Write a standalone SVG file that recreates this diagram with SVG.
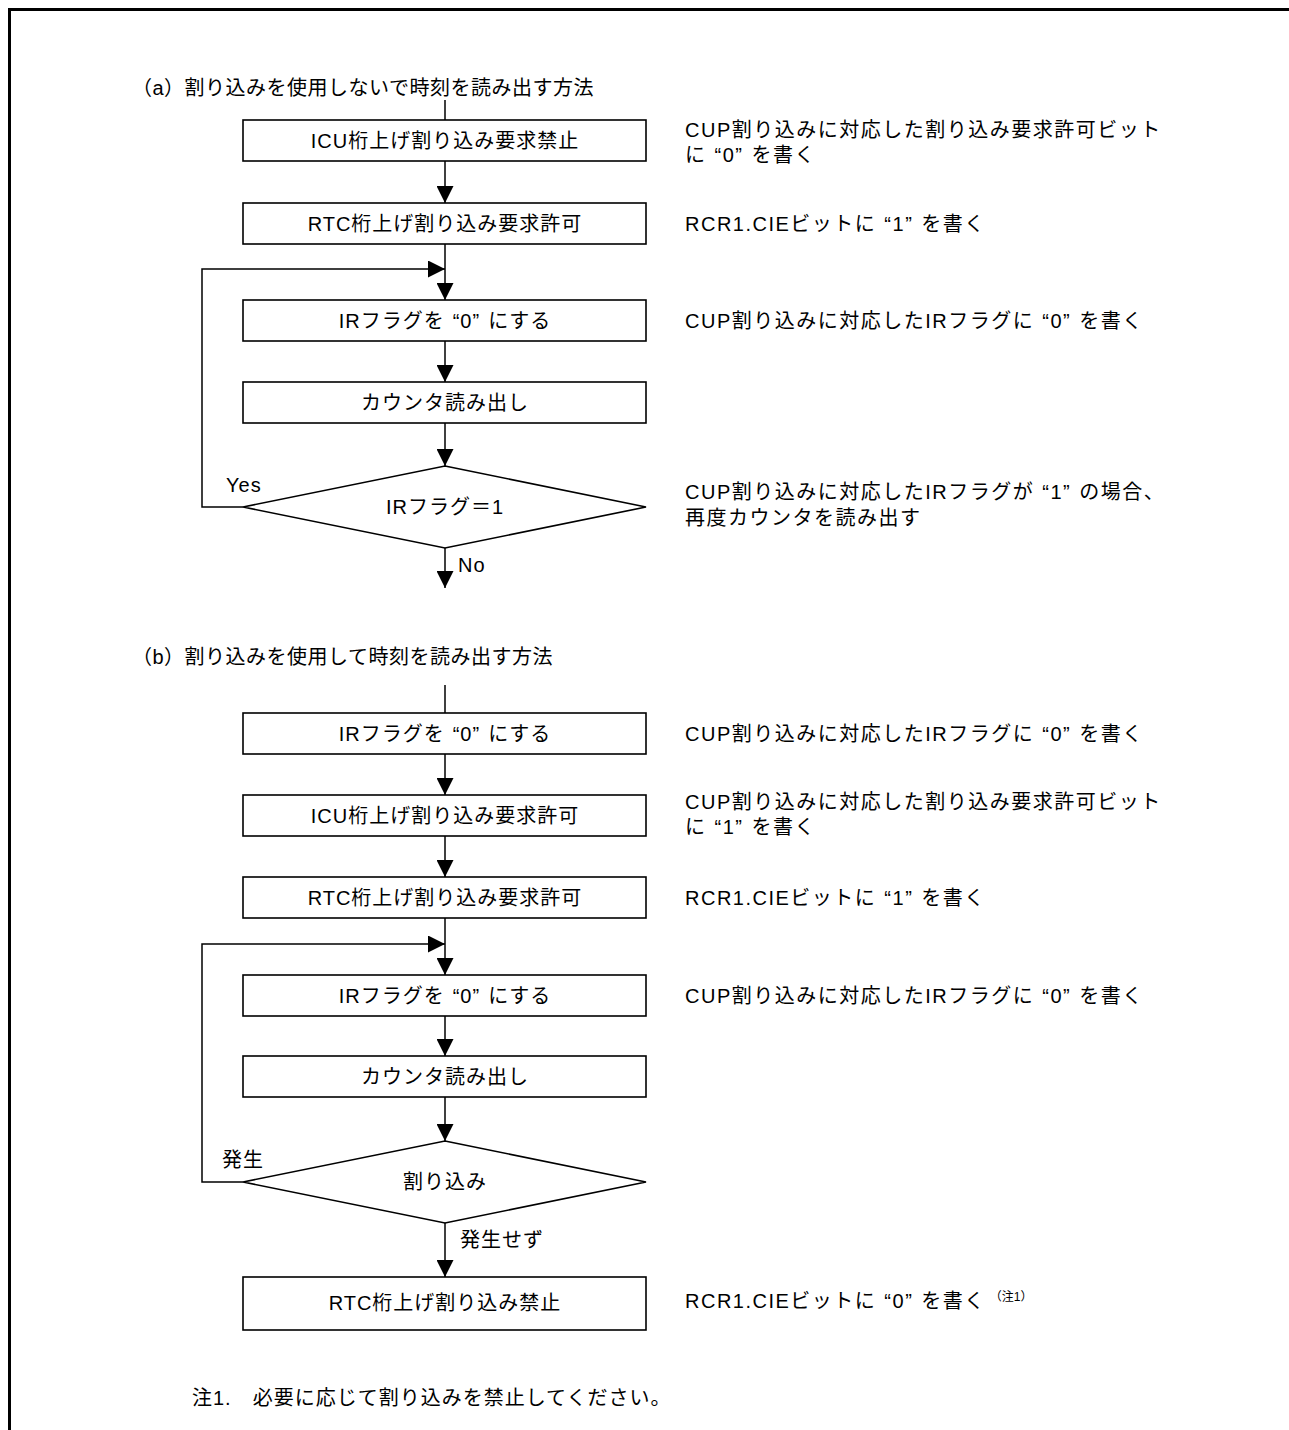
<svg xmlns="http://www.w3.org/2000/svg" width="1289" height="1430" viewBox="0 0 1289 1430">
<defs>
<marker id="ah" viewBox="0 0 17 17" refX="17" refY="8.5" markerWidth="17" markerHeight="17" markerUnits="userSpaceOnUse" orient="auto">
<path d="M0,0 L17,8.5 L0,17 Z" fill="#000"/>
</marker>
</defs>
<style>
text { font-family: "Liberation Sans", "Noto Sans CJK JP", sans-serif; font-size: 20px; fill: #000; letter-spacing: 1px; }
.c { text-anchor: middle; }
.r { letter-spacing: 1.5px; }
.t { letter-spacing: 0.5px; }
.box { fill: #fff; stroke: #000; stroke-width: 1.6; }
.ln { fill: none; stroke: #000; stroke-width: 1.5; }
.ar { marker-end: url(#ah); }
.sup { font-size: 12px; letter-spacing: 0; }
.frame { fill: none; stroke: #000; stroke-width: 3; }
</style>
<path class="frame" d="M9.5,1430 V9.5 H1289"/>
<text class="t" x="132" y="95">（a）割り込みを使用しないで時刻を読み出す方法</text>
<text class="t" x="132" y="664">（b）割り込みを使用して時刻を読み出す方法</text>
<g id="connectors">
<path class="ln" d="M445,100 V120"/>
<path class="ln ar" d="M445,161 V203"/>
<path class="ln ar" d="M445,244 V300"/>
<path class="ln ar" d="M445,341 V382"/>
<path class="ln ar" d="M445,423 V466"/>
<path class="ln ar" d="M243,507 H202 V269 H445"/>
<path class="ln ar" d="M445,548 V588"/>
<text x="226" y="492">Yes</text>
<text x="458" y="572">No</text>
<path class="ln" d="M445,685 V713"/>
<path class="ln ar" d="M445,754 V795"/>
<path class="ln ar" d="M445,836 V877"/>
<path class="ln ar" d="M445,918 V975"/>
<path class="ln ar" d="M445,1016 V1056"/>
<path class="ln ar" d="M445,1097 V1141"/>
<path class="ln ar" d="M243,1182 H202 V944 H445"/>
<path class="ln ar" d="M445,1223 V1277"/>
<text x="222" y="1167">発生</text>
<text x="460" y="1247">発生せず</text>
</g>
<g id="a1"><rect class="box" x="243" y="120" width="403" height="41"/><text class="c" x="445" y="148">ICU桁上げ割り込み要求禁止</text></g>
<g id="a2"><rect class="box" x="243" y="203" width="403" height="41"/><text class="c" x="445" y="231">RTC桁上げ割り込み要求許可</text></g>
<g id="a3"><rect class="box" x="243" y="300" width="403" height="41"/><text class="c" x="445" y="328">IRフラグを<tspan dx="8">“0”</tspan><tspan dx="8">にする</tspan></text></g>
<g id="a4"><rect class="box" x="243" y="382" width="403" height="41"/><text class="c" x="445" y="410">カウンタ読み出し</text></g>
<g id="a5"><polygon class="box" points="445,466 646,507 445,548 243,507"/><text class="c" x="445" y="514">IRフラグ＝1</text></g>
<g id="b1"><rect class="box" x="243" y="713" width="403" height="41"/><text class="c" x="445" y="741">IRフラグを<tspan dx="8">“0”</tspan><tspan dx="8">にする</tspan></text></g>
<g id="b2"><rect class="box" x="243" y="795" width="403" height="41"/><text class="c" x="445" y="823">ICU桁上げ割り込み要求許可</text></g>
<g id="b3"><rect class="box" x="243" y="877" width="403" height="41"/><text class="c" x="445" y="905">RTC桁上げ割り込み要求許可</text></g>
<g id="b4"><rect class="box" x="243" y="975" width="403" height="41"/><text class="c" x="445" y="1003">IRフラグを<tspan dx="8">“0”</tspan><tspan dx="8">にする</tspan></text></g>
<g id="b5"><rect class="box" x="243" y="1056" width="403" height="41"/><text class="c" x="445" y="1084">カウンタ読み出し</text></g>
<g id="b6"><polygon class="box" points="445,1141 646,1182 445,1223 243,1182"/><text class="c" x="445" y="1189">割り込み</text></g>
<g id="b7"><rect class="box" x="243" y="1277" width="403" height="53"/><text class="c" x="445" y="1310">RTC桁上げ割り込み禁止</text></g>
<g id="notes">
<text class="r" x="685" y="137">CUP割り込みに対応した割り込み要求許可ビット</text>
<text class="r" x="685" y="162">に<tspan dx="8">“0”</tspan><tspan dx="8">を書く</tspan></text>
<text class="r" x="685" y="231">RCR1.CIEビットに<tspan dx="8">“1”</tspan><tspan dx="8">を書く</tspan></text>
<text class="r" x="685" y="328">CUP割り込みに対応したIRフラグに<tspan dx="8">“0”</tspan><tspan dx="8">を書く</tspan></text>
<text class="r" x="685" y="499">CUP割り込みに対応したIRフラグが<tspan dx="8">“1”</tspan><tspan dx="8">の場合、</tspan></text>
<text class="r" x="685" y="525">再度カウンタを読み出す</text>
<text class="r" x="685" y="741">CUP割り込みに対応したIRフラグに<tspan dx="8">“0”</tspan><tspan dx="8">を書く</tspan></text>
<text class="r" x="685" y="809">CUP割り込みに対応した割り込み要求許可ビット</text>
<text class="r" x="685" y="834">に<tspan dx="8">“1”</tspan><tspan dx="8">を書く</tspan></text>
<text class="r" x="685" y="905">RCR1.CIEビットに<tspan dx="8">“1”</tspan><tspan dx="8">を書く</tspan></text>
<text class="r" x="685" y="1003">CUP割り込みに対応したIRフラグに<tspan dx="8">“0”</tspan><tspan dx="8">を書く</tspan></text>
<text class="r" x="685" y="1308">RCR1.CIEビットに<tspan dx="8">“0”</tspan><tspan dx="8">を書く</tspan><tspan class="sup" dx="4" dy="-7">（注1）</tspan></text>
<text x="192" y="1405">注1.　必要に応じて割り込みを禁止してください。</text>
</g>
</svg>
